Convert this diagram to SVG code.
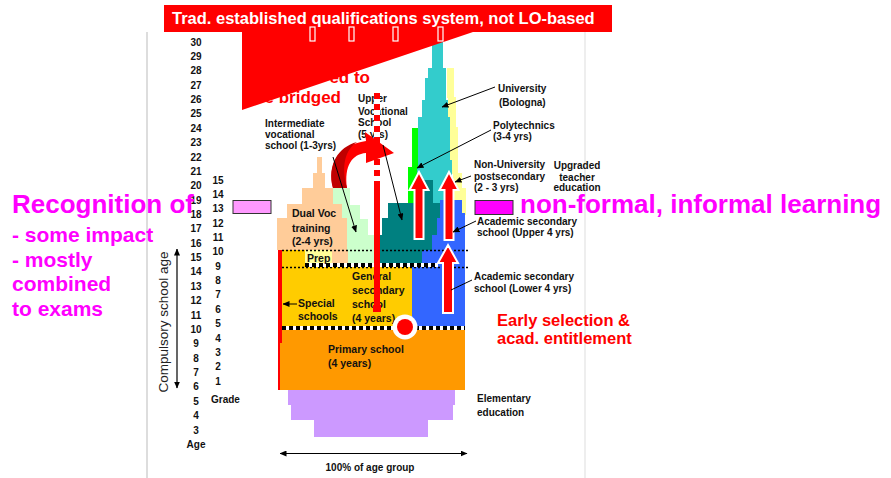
<svg xmlns="http://www.w3.org/2000/svg" width="891" height="478" viewBox="0 0 891 478">
<defs>
<style>
text{font-family:"Liberation Sans",Arial,sans-serif}
.n{font-size:10px;font-weight:bold;fill:#111;text-anchor:middle}
.lb{font-size:10px;font-weight:bold;fill:#111}
.lb2{font-size:10.5px;font-weight:bold;fill:#111}
.mg{font-weight:bold;fill:#FF00FF}
.rd{font-weight:bold;fill:#FF0000}
.ln{stroke:#000;stroke-width:1;fill:none}
.dot{stroke:#000;stroke-width:1.6;stroke-dasharray:2 2;fill:none}
.sqw{stroke:#fff;stroke-width:4;fill:none}
.sq{stroke:#000;stroke-width:4;stroke-dasharray:4 3;fill:none}
.up{fill:#FF0000;stroke:#fff;stroke-width:2;stroke-linejoin:miter}
.cyan{fill:#33CCCC}.yel{fill:#FFFF99}.grn{fill:#00FF00}.teal{fill:#008080}
.blue{fill:#3366FF}.lgrn{fill:#CCFFCC}.peach{fill:#FFCC99}.gold{fill:#FFCC00}
.org{fill:#FF9900}.lav{fill:#CC99FF}
</style>
<marker id="ah" markerWidth="7" markerHeight="6" refX="6.5" refY="3" orient="auto" markerUnits="userSpaceOnUse">
<path d="M0,0 L7,3 L0,6 z" fill="#000"/>
</marker>
<marker id="ahs" markerWidth="7" markerHeight="6" refX="0.5" refY="3" orient="auto" markerUnits="userSpaceOnUse">
<path d="M7,0 L0,3 L7,6 z" fill="#000"/>
</marker>
</defs>

<rect width="891" height="478" fill="#fff"/>

<!-- frame lines of the inset chart -->
<line x1="147" y1="32" x2="147" y2="478" stroke="#bbb" stroke-width="1"/>
<line x1="585" y1="32" x2="585" y2="478" stroke="#ddd" stroke-width="1"/>

<!-- age scale -->
<g id="age-scale">
<text class="n" x="196" y="45.5">30</text>
<text class="n" x="196" y="59.9">29</text>
<text class="n" x="196" y="74.2">28</text>
<text class="n" x="196" y="88.6">27</text>
<text class="n" x="196" y="103">26</text>
<text class="n" x="196" y="117.3">25</text>
<text class="n" x="196" y="131.7">24</text>
<text class="n" x="196" y="146.1">23</text>
<text class="n" x="196" y="160.5">22</text>
<text class="n" x="196" y="174.8">21</text>
<text class="n" x="196" y="189.2">20</text>
<text class="n" x="196" y="203.6">19</text>
<text class="n" x="196" y="217.9">18</text>
<text class="n" x="196" y="232.3">17</text>
<text class="n" x="196" y="246.7">16</text>
<text class="n" x="196" y="261.1">15</text>
<text class="n" x="196" y="275.4">14</text>
<text class="n" x="196" y="289.8">13</text>
<text class="n" x="196" y="304.2">12</text>
<text class="n" x="196" y="318.5">11</text>
<text class="n" x="196" y="332.9">10</text>
<text class="n" x="196" y="347.3">9</text>
<text class="n" x="196" y="361.7">8</text>
<text class="n" x="196" y="376">7</text>
<text class="n" x="196" y="390.4">6</text>
<text class="n" x="196" y="404.8">5</text>
<text class="n" x="196" y="419.1">4</text>
<text class="n" x="196" y="433.5">3</text>
<text class="n" x="196" y="447.5">Age</text>
</g>

<!-- grade scale -->
<g id="grade-scale">
<text class="n" x="218" y="183.5">15</text>
<text class="n" x="218" y="197.9">14</text>
<text class="n" x="218" y="212.2">13</text>
<text class="n" x="218" y="226.6">12</text>
<text class="n" x="218" y="240.9">11</text>
<text class="n" x="218" y="255.3">10</text>
<text class="n" x="218" y="269.7">9</text>
<text class="n" x="218" y="284">8</text>
<text class="n" x="218" y="298.4">7</text>
<text class="n" x="218" y="312.7">6</text>
<text class="n" x="218" y="327.1">5</text>
<text class="n" x="218" y="341.5">4</text>
<text class="n" x="218" y="355.8">3</text>
<text class="n" x="218" y="370.2">2</text>
<text class="n" x="218" y="384.5">1</text>
<text class="lb" x="211" y="402.5">Grade</text>
</g>

<!-- compulsory school age -->
<g id="compulsory-age">
<line x1="177" y1="249" x2="177" y2="388" stroke="#000" stroke-width="1.2" marker-start="url(#ahs)" marker-end="url(#ah)"/>
<text transform="translate(168,322) rotate(-90)" text-anchor="middle" font-size="13.5" fill="#222">Compulsory school age</text>
</g>

<!-- tertiary tower -->
<g id="teacher-education">
<rect class="yel" x="447" y="68" width="7" height="30"/>
<rect class="yel" x="448" y="97" width="8" height="31"/>
<rect class="yel" x="450" y="127" width="8" height="47"/>
<rect class="yel" x="453" y="173" width="9" height="32"/>
<rect class="yel" x="455" y="188" width="11" height="27"/>
</g>
<g id="university">
<path class="cyan" d="M432,35 H443 V68 H446 V100 H448 V117 H450 V160 H452 V210 H413 V160 H418 V117 H422 V100 H425 V78 H428 V68 H432 Z"/>
</g>
<g id="polytechnics">
<rect class="grn" x="412" y="128" width="6" height="40"/>
<rect class="grn" x="408" y="167" width="9" height="38"/>
</g>
<g id="upper-vocational">
<path class="teal" d="M423,180 H433 V203 H440 V218 H437 V235 H432 V250 H422 V267 H380 V235 H382 V218 H388 V203 H423 Z"/>
</g>
<g id="academic-secondary">
<path class="blue" d="M440,200 H462 V213 H465 V330 H403 V325 H407 V315 H408 V308 H410 V282 H412 V267 H422 V250 H432 V235 H437 V218 H440 Z"/>
</g>
<g id="intermediate-vocational">
<rect class="lgrn" x="333" y="188" width="17" height="17"/>
<rect class="lgrn" x="333" y="205" width="27" height="14"/>
<rect class="lgrn" x="347" y="219" width="21" height="16"/>
<rect class="lgrn" x="347" y="235" width="33" height="32"/>
</g>
<g id="dual-voc">
<rect class="peach" x="317" y="157" width="5" height="17"/>
<rect class="peach" x="313" y="173" width="12" height="16"/>
<rect class="peach" x="302" y="188" width="31" height="17"/>
<rect class="peach" x="287" y="204" width="55" height="15"/>
<rect class="peach" x="277" y="218" width="70" height="32"/>
<rect class="peach" x="330" y="250" width="18" height="17"/>
</g>
<g id="general-secondary">
<rect class="gold" x="282" y="267" width="130" height="63"/>
<rect class="gold" x="282" y="250" width="23" height="17"/>
</g>
<g id="prep">
<rect fill="#FFFF99" x="305" y="250" width="27" height="17"/>
</g>
<g id="primary">
<rect class="org" x="279" y="330" width="186" height="60"/>
</g>
<g id="elementary">
<rect class="lav" x="288" y="390" width="167" height="15"/>
<rect class="lav" x="291" y="405" width="162" height="15"/>
<rect class="lav" x="314" y="420" width="114" height="17"/>
</g>
<g id="special-schools">
<rect fill="#FF0000" x="278" y="250" width="4" height="93"/>
<rect fill="#FF0000" x="278" y="343" width="2" height="47"/>
</g>

<!-- level boundaries -->
<g id="boundaries">
<line class="dot" x1="282" y1="250.5" x2="468" y2="250.5"/>
<line class="dot" x1="282" y1="267.5" x2="468" y2="267.5"/>
<line class="sqw" x1="305" y1="265" x2="438" y2="265"/>
<line class="sq" x1="305" y1="265" x2="438" y2="265"/>
<line class="sqw" x1="282" y1="328" x2="465" y2="328"/>
<line class="sq" x1="282" y1="328" x2="465" y2="328"/>
</g>

<!-- labels inside and around the chart -->
<g id="labels">
<text class="lb" x="265" y="127">Intermediate</text>
<text class="lb" x="265" y="138">vocational</text>
<text class="lb" x="265" y="149">school (1-3yrs)</text>
<text class="lb" x="358" y="102">Upper</text>
<text class="lb" x="358" y="114.5">Vocational</text>
<text class="lb" x="358" y="126">School</text>
<text class="lb" x="358" y="137.5">(5 yrs)</text>
<text class="lb2" x="292" y="217">Dual Voc</text>
<text class="lb2" x="292" y="231.5">training</text>
<text class="lb2" x="292" y="245">(2-4 yrs)</text>
<text class="lb2" x="307" y="262">Prep</text>
<text class="lb2" x="352" y="280">General</text>
<text class="lb2" x="352" y="294">secondary</text>
<text class="lb2" x="352" y="308">school</text>
<text class="lb2" x="352" y="322">(4 years)</text>
<text class="lb2" x="298" y="307">Special</text>
<text class="lb2" x="298" y="320">schools</text>
<text class="lb2" x="328" y="353">Primary school</text>
<text class="lb2" x="328" y="367">(4 years)</text>
<text class="lb" x="498" y="92" font-size="11.5">University</text>
<text class="lb" x="499" y="106" font-size="11.5">(Bologna)</text>
<text class="lb" x="493" y="129">Polytechnics</text>
<text class="lb" x="493" y="140">(3-4 yrs)</text>
<text class="lb" x="474" y="168">Non-University</text>
<text class="lb" x="474" y="180">postsecondary</text>
<text class="lb" x="474" y="191">(2 - 3 yrs)</text>
<text class="lb" x="577" y="169" text-anchor="middle">Upgraded</text>
<text class="lb" x="577" y="180.5" text-anchor="middle">teacher</text>
<text class="lb" x="577" y="191" text-anchor="middle">education</text>
<text class="lb" x="477" y="225">Academic secondary</text>
<text class="lb" x="477" y="236">school (Upper 4 yrs)</text>
<text class="lb" x="474" y="280">Academic secondary</text>
<text class="lb" x="474" y="291.5">school (Lower 4 yrs)</text>
<text class="lb" x="477" y="402" font-size="11.5">Elementary</text>
<text class="lb" x="477" y="416" font-size="11.5">education</text>
<text class="n" x="370" y="471">100% of age group</text>
</g>

<!-- pathway bar through upper vocational school -->
<g id="vocational-pathway">
<line x1="377" y1="93" x2="377" y2="182" stroke="#fff" stroke-width="6"/>
<line x1="377" y1="93" x2="377" y2="182" stroke="#FF0000" stroke-width="6" stroke-dasharray="6 5"/>
<rect fill="#FF0000" x="374" y="181" width="6" height="131"/>
<rect fill="#FF0000" x="373" y="305" width="8" height="7"/>
</g>

<!-- curved bridging arrow -->
<g id="bridge-arrow">
<path fill="#FF0000" d="M333,188 C327,165 338,145 366,141 L365,132 L394,153 L366,163 L366,153 C352,154 344,166 347,188 Z"/>
<path fill="#C00000" d="M333,188 C327,165 338,147 357,142 C345,150 341,166 347,188 Z"/>
</g>

<!-- progression arrows -->
<g id="progression">
<path class="up" d="M419,172 L428.5,190 L423.5,190 L423.5,239 L414.5,239 L414.5,190 L409.5,190 Z"/>
<path class="up" d="M449,172 L458.5,190 L453.5,190 L453.5,240 L444.5,240 L444.5,190 L439.5,190 Z"/>
<path class="up" d="M448,245 L458,263 L453,263 L453,313 L443,313 L443,263 L438,263 Z"/>
<circle cx="405" cy="327" r="12.5" fill="#fff"/>
<circle cx="405" cy="327" r="8" fill="#FF0000"/>
</g>

<!-- annotation connectors -->
<g id="connectors">
<line class="ln" x1="495" y1="87" x2="442" y2="107" marker-end="url(#ah)"/>
<line class="ln" x1="491" y1="130" x2="417" y2="168" marker-end="url(#ah)"/>
<line class="ln" x1="471" y1="176" x2="455" y2="182" marker-end="url(#ah)"/>
<line class="ln" x1="476" y1="221" x2="453" y2="232" marker-end="url(#ah)"/>
<line class="ln" x1="472" y1="280" x2="451" y2="290"/>
<line class="ln" x1="333" y1="157" x2="356" y2="232" marker-end="url(#ah)"/>
<line class="ln" x1="383" y1="145" x2="402" y2="220" marker-end="url(#ah)"/>
<line class="ln" x1="297" y1="304" x2="283" y2="304" marker-end="url(#ah)"/>
<line x1="280" y1="453.5" x2="467" y2="453.5" stroke="#000" stroke-width="1.2" marker-start="url(#ahs)" marker-end="url(#ah)"/>
</g>

<!-- heading banner -->
<g id="banner">
<text class="rd" x="370" y="83" font-size="17" text-anchor="end">ed to</text>
<text class="rd" x="341" y="103" font-size="17" text-anchor="end">e bridged</text>
<path fill="#FF0000" d="M164,5 H612 V32 H473 L242,110 V32 H164 Z"/>
<g fill="none" stroke="#fff" stroke-width="1.2">
<rect x="310" y="27" width="5" height="14"/>
<rect x="349" y="27" width="5" height="14"/>
<rect x="393" y="27" width="5" height="14"/>
<rect x="438" y="27" width="5" height="14" fill="#FF0000"/>
</g>
<text x="172" y="24" font-size="16.5" font-weight="bold" fill="#fff">Trad. established qualifications system, not LO-based</text>
</g>

<!-- recognition of non-formal learning -->
<g id="recognition">
<rect x="233" y="200.5" width="38" height="13" fill="#FF99FF" stroke="#333" stroke-width="1"/>
<rect x="475" y="200.5" width="38" height="14" fill="#FF00FF" stroke="#333" stroke-width="1"/>
<text class="mg" x="12" y="213" font-size="26">Recognition of</text>
<text class="mg" x="520" y="213" font-size="26">non-formal, informal learning</text>
<text class="mg" x="12" y="242" font-size="21">- some impact</text>
<text class="mg" x="12" y="267" font-size="21">- mostly</text>
<text class="mg" x="12" y="291" font-size="21">combined</text>
<text class="mg" x="12" y="316" font-size="21">to exams</text>
</g>

<g id="early-selection">
<text class="rd" x="497" y="326" font-size="16.5">Early selection &amp;</text>
<text class="rd" x="497" y="344" font-size="16.5">acad. entitlement</text>
</g>
</svg>
